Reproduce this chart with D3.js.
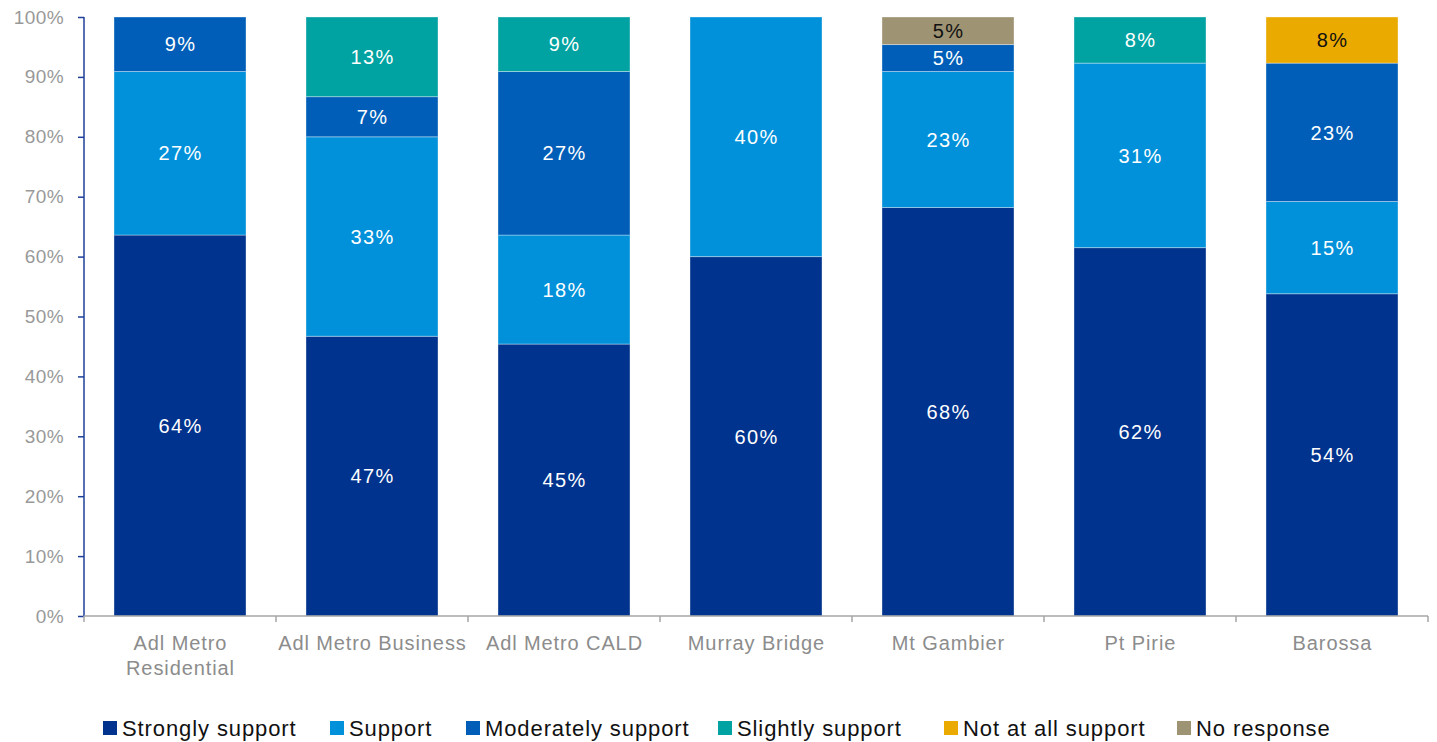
<!DOCTYPE html>
<html>
<head>
<meta charset="utf-8">
<script src="https://cdn.jsdelivr.net/npm/d3@7"></script>
<style>
  html, body { margin: 0; padding: 0; background: #fff; }
  svg { display: block; font-family: "Liberation Sans", Arial, sans-serif; }
</style>
</head>
<body>
<svg id="chart" width="1437" height="742"></svg>
<script>
// Survey groups along the x axis (a "\n" breaks the label onto two lines)
const categories = ["Adl Metro\nResidential", "Adl Metro Business", "Adl Metro CALD", "Murray Bridge", "Mt Gambier", "Pt Pirie", "Barossa"];

// Response levels, bottom to top in each stack
const seriesNames = ["Strongly support", "Support", "Moderately support", "Slightly support", "Not at all support", "No response"];
const seriesColors = ["#00338D", "#0091DA", "#005EB8", "#00A3A1", "#EAAA00", "#9E9373"];
const labelColors = ["#fff", "#fff", "#fff", "#fff", "#111", "#111"];

// Share of respondents (%) per group, one array per response level
const stronglySupport   = [63.6, 46.7, 45.4, 60.0, 68.2, 61.5, 53.8];
const support           = [27.3, 33.3, 18.2, 40.0, 22.7, 30.8, 15.4];
const moderatelySupport = [9.1, 6.7, 27.3, 0, 4.5, 0, 23.1];
const slightlySupport   = [0, 13.3, 9.1, 0, 0, 7.7, 0];
const notAtAllSupport   = [0, 0, 0, 0, 0, 0, 7.7];
const noResponse        = [0, 0, 0, 0, 4.6, 0, 0];

const yTicks = [0, 10, 20, 30, 40, 50, 60, 70, 80, 90, 100];

const seriesValues = [stronglySupport, support, moderatelySupport, slightlySupport, notAtAllSupport, noResponse];
const rows = categories.map((c, i) => {
  const r = { category: c };
  seriesNames.forEach((s, k) => { r[s] = seriesValues[k][i]; });
  return r;
});

const svg = d3.select("#chart");
const margin = { left: 84, right: 9, top: 17, bottom: 126 };
const W = 1437, H = 742;

const x = d3.scaleBand().domain(categories).range([margin.left, W - margin.right]).paddingInner(0.3125).paddingOuter(0.15625);
const y = d3.scaleLinear().domain([0, 100]).range([H - margin.bottom, margin.top]);

const stacked = d3.stack().keys(seriesNames)(rows);

// Stacked bars
const layers = svg.append("g").selectAll("g").data(stacked).join("g")
  .attr("fill", (d, i) => seriesColors[i]);

layers.selectAll("rect").data(d => d.filter(p => p[1] - p[0] > 0)).join("rect")
  .attr("x", p => x(p.data.category))
  .attr("width", x.bandwidth())
  .attr("y", p => y(Math.min(p[1], 100)))
  .attr("height", p => y(p[0]) - y(Math.min(p[1], 100)))
  .attr("stroke", "rgba(255,255,255,0.35)")
  .attr("stroke-width", 1);

// Value labels centred in each segment (dx offsets the trailing letter-spacing)
const labelSpacing = 1.4;
stacked.forEach((layer, i) => {
  svg.append("g").selectAll("text").data(layer.filter(p => p[1] - p[0] > 0)).join("text")
    .attr("x", p => x(p.data.category) + x.bandwidth() / 2)
    .attr("y", p => (y(p[0]) + y(Math.min(p[1], 100))) / 2)
    .attr("dx", labelSpacing / 2)
    .attr("dy", "0.36em")
    .attr("text-anchor", "middle")
    .attr("font-size", 20)
    .attr("letter-spacing", labelSpacing)
    .attr("fill", labelColors[i])
    .text(p => Math.round(p[1] - p[0]) + "%");
});

// Y axis
const yAxis = svg.append("g")
  .attr("transform", `translate(${margin.left},0)`)
  .call(d3.axisLeft(y).tickValues(yTicks).tickFormat(d => d + "%").tickSize(6).tickPadding(14));
yAxis.select(".domain").attr("stroke", "#1F3F9A").attr("stroke-width", 1.5).attr("d", `M0,${y(100)}V${y(0)}`);
yAxis.selectAll(".tick line").attr("stroke", "#1F3F9A").attr("stroke-width", 1.5);
yAxis.selectAll(".tick text").attr("font-size", 19).attr("letter-spacing", 0.4).attr("fill", "#999")
  .attr("font-family", "Liberation Sans, Arial, sans-serif");

// X axis: baseline with ticks at the group boundaries
const xAxisG = svg.append("g").attr("transform", `translate(0,${y(0)})`);
xAxisG.append("line")
  .attr("x1", margin.left).attr("x2", W - margin.right)
  .attr("stroke", "#A6A6A6").attr("stroke-width", 1.5);
const step = x.step();
const boundaries = d3.range(categories.length + 1).map(i => margin.left + i * step);
xAxisG.selectAll("line.tick").data(boundaries).join("line")
  .attr("class", "tick")
  .attr("x1", d => d).attr("x2", d => d)
  .attr("y1", 0).attr("y2", 6)
  .attr("stroke", "#A6A6A6").attr("stroke-width", 1.5);

const catSpacing = 0.9;
xAxisG.selectAll("text").data(categories).join("text")
  .attr("x", d => x(d) + x.bandwidth() / 2)
  .attr("y", 34)
  .attr("text-anchor", "middle")
  .attr("font-size", 20)
  .attr("letter-spacing", catSpacing)
  .attr("fill", "#8C8C8C")
  .each(function (d) {
    const t = d3.select(this);
    d.split("\n").forEach((line, i) => {
      t.append("tspan").attr("x", x(d) + x.bandwidth() / 2 + catSpacing / 2).attr("dy", i === 0 ? 0 : 25).text(line);
    });
  });

// Legend
const legendX = [103, 330, 466, 718, 944, 1177];
const legend = svg.append("g").attr("transform", "translate(0,728)");
const items = legend.selectAll("g").data(seriesNames).join("g")
  .attr("transform", (d, i) => `translate(${legendX[i]},0)`);
items.append("rect").attr("x", 0).attr("y", -7).attr("width", 14).attr("height", 14)
  .attr("fill", (d, i) => seriesColors[i]);
items.append("text").attr("x", 19).attr("dy", "0.36em")
  .attr("font-size", 22).attr("letter-spacing", 0.9).attr("fill", "#111").text(d => d);
</script>
</body>
</html>
